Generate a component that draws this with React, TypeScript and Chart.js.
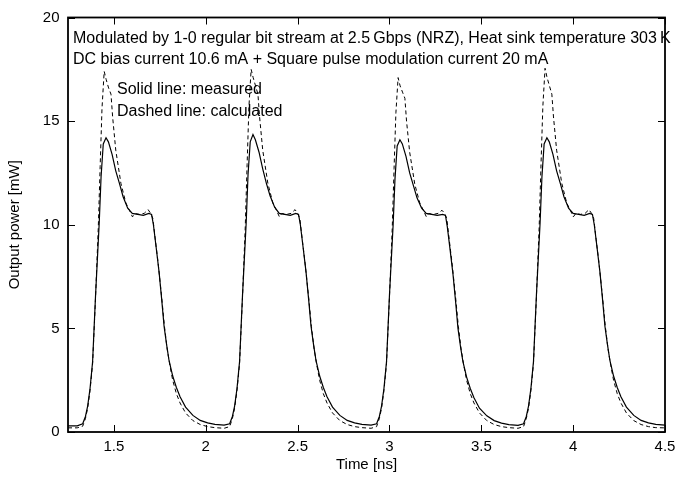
import React, { useEffect, useRef } from "react";
import { Chart, registerables } from "chart.js";

Chart.register(...registerables);

// ---- Data ----
const measuredTime = [
  1.25, 1.3, 1.33, 1.345, 1.357, 1.37, 1.384, 1.4, 1.42, 1.43, 1.442, 1.457, 1.47, 1.49, 1.51, 1.53, 1.55, 1.575, 1.6, 1.63, 1.66, 1.69, 1.705, 1.715, 1.73, 1.746, 1.76, 1.773, 1.787, 1.8, 1.82, 1.84, 1.86, 1.89, 1.93, 1.97, 2.01, 2.05, 2.1,
  2.13, 2.145, 2.157, 2.17, 2.184, 2.2, 2.22, 2.23, 2.242, 2.257, 2.27, 2.29, 2.31, 2.33, 2.35, 2.375, 2.4, 2.43, 2.46, 2.49, 2.505, 2.515, 2.53, 2.546, 2.56, 2.573, 2.587, 2.6, 2.62, 2.64, 2.66, 2.69, 2.73, 2.77, 2.81, 2.85, 2.9,
  2.93, 2.945, 2.957, 2.97, 2.984, 3.0, 3.02, 3.03, 3.042, 3.057, 3.07, 3.09, 3.11, 3.13, 3.15, 3.175, 3.2, 3.23, 3.26, 3.29, 3.305, 3.315, 3.33, 3.346, 3.36, 3.373, 3.387, 3.4, 3.42, 3.44, 3.46, 3.49, 3.53, 3.57, 3.61, 3.65, 3.7,
  3.73, 3.745, 3.757, 3.77, 3.784, 3.8, 3.82, 3.83, 3.842, 3.857, 3.87, 3.89, 3.91, 3.93, 3.95, 3.975, 4.0, 4.03, 4.06, 4.09, 4.105, 4.115, 4.13, 4.146, 4.16, 4.173, 4.187, 4.2, 4.22, 4.24, 4.26, 4.29, 4.33, 4.37, 4.41, 4.45, 4.5,
];
const measuredPower = [
  0.3, 0.3, 0.4, 0.75, 1.25, 2.1, 3.4, 6.6, 10.1, 12.3, 13.9, 14.2, 14.0, 13.4, 12.6, 12.0, 11.35, 10.8, 10.55, 10.5, 10.45, 10.55, 10.5, 10.0, 8.9, 7.7, 6.4, 5.1, 4.2, 3.45, 2.7, 2.15, 1.7, 1.2, 0.8, 0.56, 0.44, 0.37, 0.33,
  0.4, 0.75, 1.25, 2.1, 3.4, 6.6, 10.1, 12.4, 14.0, 14.35, 14.1, 13.5, 12.7, 12.0, 11.4, 10.85, 10.55, 10.5, 10.45, 10.55, 10.5, 10.0, 8.9, 7.7, 6.4, 5.1, 4.2, 3.45, 2.7, 2.15, 1.7, 1.2, 0.8, 0.56, 0.44, 0.37, 0.33,
  0.4, 0.75, 1.25, 2.1, 3.4, 6.6, 10.0, 12.2, 13.8, 14.1, 13.9, 13.3, 12.5, 11.9, 11.3, 10.8, 10.55, 10.5, 10.45, 10.5, 10.45, 9.9, 8.8, 7.6, 6.3, 5.0, 4.1, 3.4, 2.65, 2.1, 1.65, 1.15, 0.78, 0.55, 0.43, 0.36, 0.32,
  0.4, 0.75, 1.25, 2.1, 3.4, 6.6, 10.1, 12.3, 13.9, 14.2, 14.0, 13.4, 12.6, 12.0, 11.35, 10.8, 10.55, 10.5, 10.45, 10.55, 10.5, 10.0, 8.9, 7.7, 6.4, 5.1, 4.2, 3.45, 2.7, 2.15, 1.7, 1.2, 0.8, 0.56, 0.44, 0.37, 0.33,
];

const calculatedTime = [
  1.25, 1.3, 1.33, 1.345, 1.357, 1.37, 1.384, 1.4, 1.415, 1.425, 1.435, 1.447, 1.458, 1.471, 1.484, 1.493, 1.51, 1.538, 1.565, 1.583, 1.601, 1.614, 1.64, 1.665, 1.686, 1.7, 1.712, 1.725, 1.74, 1.76, 1.775, 1.79, 1.805, 1.82, 1.84, 1.86, 1.89, 1.93, 1.97, 2.01, 2.05, 2.1,
  2.13, 2.145, 2.157, 2.17, 2.184, 2.2, 2.215, 2.225, 2.235, 2.247, 2.258, 2.271, 2.284, 2.293, 2.31, 2.338, 2.365, 2.383, 2.401, 2.414, 2.44, 2.465, 2.486, 2.5, 2.512, 2.525, 2.54, 2.56, 2.575, 2.59, 2.605, 2.62, 2.64, 2.66, 2.69, 2.73, 2.77, 2.81, 2.85, 2.9,
  2.93, 2.945, 2.957, 2.97, 2.984, 3.0, 3.015, 3.025, 3.035, 3.047, 3.058, 3.071, 3.084, 3.093, 3.11, 3.138, 3.165, 3.183, 3.201, 3.214, 3.24, 3.265, 3.286, 3.3, 3.312, 3.325, 3.34, 3.36, 3.375, 3.39, 3.405, 3.42, 3.44, 3.46, 3.49, 3.53, 3.57, 3.61, 3.65, 3.7,
  3.73, 3.745, 3.757, 3.77, 3.784, 3.8, 3.815, 3.825, 3.835, 3.847, 3.858, 3.871, 3.884, 3.893, 3.91, 3.938, 3.965, 3.983, 4.001, 4.014, 4.04, 4.065, 4.086, 4.1, 4.112, 4.125, 4.14, 4.16, 4.175, 4.19, 4.205, 4.22, 4.24, 4.26, 4.29, 4.33, 4.37, 4.41, 4.45, 4.5,
];
const calculatedPower = [
  0.2, 0.2, 0.28, 0.65, 1.15, 2.0, 3.3, 6.5, 9.9, 12.8, 15.6, 17.4, 17.0, 16.6, 16.3, 15.2, 13.6, 12.0, 11.05, 10.73, 10.38, 10.54, 10.5, 10.55, 10.73, 10.55, 10.3, 9.3, 8.2, 6.5, 5.1, 4.0, 3.2, 2.5, 1.85, 1.4, 0.92, 0.55, 0.36, 0.26, 0.21, 0.18,
  0.26, 0.65, 1.15, 2.0, 3.3, 6.5, 9.9, 12.9, 15.7, 17.5, 17.1, 16.7, 16.3, 15.2, 13.6, 12.0, 11.05, 10.73, 10.38, 10.54, 10.5, 10.55, 10.73, 10.55, 10.3, 9.3, 8.2, 6.5, 5.1, 4.0, 3.2, 2.5, 1.85, 1.4, 0.92, 0.55, 0.36, 0.26, 0.21, 0.18,
  0.26, 0.65, 1.15, 2.0, 3.3, 6.5, 9.8, 12.7, 15.4, 17.1, 16.7, 16.4, 16.1, 15.0, 13.5, 11.95, 11.05, 10.73, 10.38, 10.54, 10.5, 10.55, 10.7, 10.55, 10.3, 9.3, 8.2, 6.5, 5.1, 4.0, 3.2, 2.5, 1.85, 1.4, 0.92, 0.55, 0.36, 0.26, 0.21, 0.18,
  0.26, 0.65, 1.15, 2.0, 3.3, 6.5, 9.9, 12.9, 15.7, 17.55, 17.1, 16.7, 16.3, 15.2, 13.6, 12.0, 11.05, 10.73, 10.38, 10.54, 10.5, 10.55, 10.73, 10.55, 10.3, 9.3, 8.2, 6.5, 5.1, 4.0, 3.2, 2.5, 1.85, 1.4, 0.92, 0.55, 0.36, 0.26, 0.21, 0.2,
];

const xTickValues = [1.5, 2, 2.5, 3, 3.5, 4, 4.5];
const yTickValues = [0, 5, 10, 15, 20];
const xTitle = "Time [ns]";
const yTitle = "Output power [mW]";
const headerLines = [
  "Modulated by 1-0 regular bit stream at 2.5\u2009Gbps (NRZ), Heat sink temperature 303\u2009K",
  "DC bias current 10.6 mA + Square pulse modulation current 20 mA",
];
const noteLines = ["Solid line: measured", "Dashed line: calculated"];

const FONT_FAMILY = "'Liberation Sans', Arial, Helvetica, sans-serif";

const framePlugin = {
  id: "frameAndText",
  afterDatasetsDraw(chart: any) {
    const { ctx, chartArea, scales } = chart;
    const { left, right, top, bottom } = chartArea;
    ctx.save();
    ctx.strokeStyle = "#000";
    // inward ticks
    ctx.lineWidth = 1;
    const tl = 7;
    ctx.beginPath();
    for (const v of xTickValues) {
      const px = Math.round(scales.x.getPixelForValue(v)) + 0.5;
      ctx.moveTo(px, bottom);
      ctx.lineTo(px, bottom - tl);
      ctx.moveTo(px, top);
      ctx.lineTo(px, top + tl);
    }
    for (const v of yTickValues) {
      const py = Math.round(scales.y.getPixelForValue(v)) + 0.5;
      ctx.moveTo(left, py);
      ctx.lineTo(left + tl, py);
      ctx.moveTo(right, py);
      ctx.lineTo(right - tl, py);
    }
    ctx.stroke();
    // frame
    ctx.lineWidth = 1.8;
    ctx.strokeRect(left, top, right - left, bottom - top);
    // texts
    ctx.fillStyle = "#000";
    ctx.font = `16px ${FONT_FAMILY}`;
    ctx.textAlign = "left";
    ctx.textBaseline = "middle";
    ctx.fillText(headerLines[0], left + 5, top + 21);
    ctx.fillText(headerLines[1], left + 5, top + 42);
    ctx.fillText(noteLines[0], left + 49, top + 72);
    ctx.fillText(noteLines[1], left + 49, top + 94);
    ctx.restore();
  },
};

export default function App() {
  const canvasRef = useRef<HTMLCanvasElement | null>(null);

  useEffect(() => {
    const canvas = canvasRef.current;
    if (!canvas) return;
    const measured = measuredTime.map((t, i) => ({ x: t, y: measuredPower[i] }));
    const calculated = calculatedTime.map((t, i) => ({ x: t, y: calculatedPower[i] }));
    const tickFont = { family: FONT_FAMILY, size: 15 };
    const chart = new Chart(canvas, {
      type: "line",
      data: {
        datasets: [
          {
            label: "measured",
            data: measured,
            borderColor: "#000",
            borderWidth: 1.2,
            pointRadius: 0,
            tension: 0,
            fill: false,
          },
          {
            label: "calculated",
            data: calculated,
            borderColor: "#000",
            borderWidth: 1,
            borderDash: [4, 3],
            pointRadius: 0,
            tension: 0,
            fill: false,
          },
        ],
      },
      options: {
        responsive: false,
        animation: false,
        devicePixelRatio: 1,
        layout: { padding: { top: 12, right: 17, left: 0, bottom: 0 } },
        plugins: { legend: { display: false }, tooltip: { enabled: false } },
        scales: {
          x: {
            type: "linear",
            min: 1.25,
            max: 4.5,
            grid: { display: false, drawTicks: false },
            border: { display: false },
            afterBuildTicks: (s: any) => {
              s.ticks = xTickValues.map((v) => ({ value: v }));
            },
            afterFit: (s: any) => {
              s.height = 46;
            },
            ticks: {
              color: "#000",
              font: tickFont,
              padding: 6,
              autoSkip: false,
              maxRotation: 0,
              callback: (v: any) => String(v),
            },
            title: {
              display: true,
              text: xTitle,
              color: "#000",
              font: tickFont,
              padding: { top: 0, bottom: 4 },
            },
          },
          y: {
            type: "linear",
            min: 0,
            max: 20,
            grid: { display: false, drawTicks: false },
            border: { display: false },
            afterBuildTicks: (s: any) => {
              s.ticks = yTickValues.map((v) => ({ value: v }));
            },
            afterFit: (s: any) => {
              s.width = 68;
            },
            ticks: {
              color: "#000",
              font: tickFont,
              padding: 8.5,
              autoSkip: false,
              callback: (v: any) => String(v),
            },
            title: {
              display: true,
              text: yTitle,
              color: "#000",
              font: tickFont,
              padding: { top: 6, bottom: 0 },
            },
          },
        },
      },
      plugins: [framePlugin],
    } as any);
    return () => chart.destroy();
  }, []);

  return (
    <div style={{ position: "absolute", left: 0, top: 0, width: 682, height: 478, background: "#fff" }}>
      <canvas ref={canvasRef} width={682} height={478} style={{ width: 682, height: 478, display: "block" }} />
    </div>
  );
}
